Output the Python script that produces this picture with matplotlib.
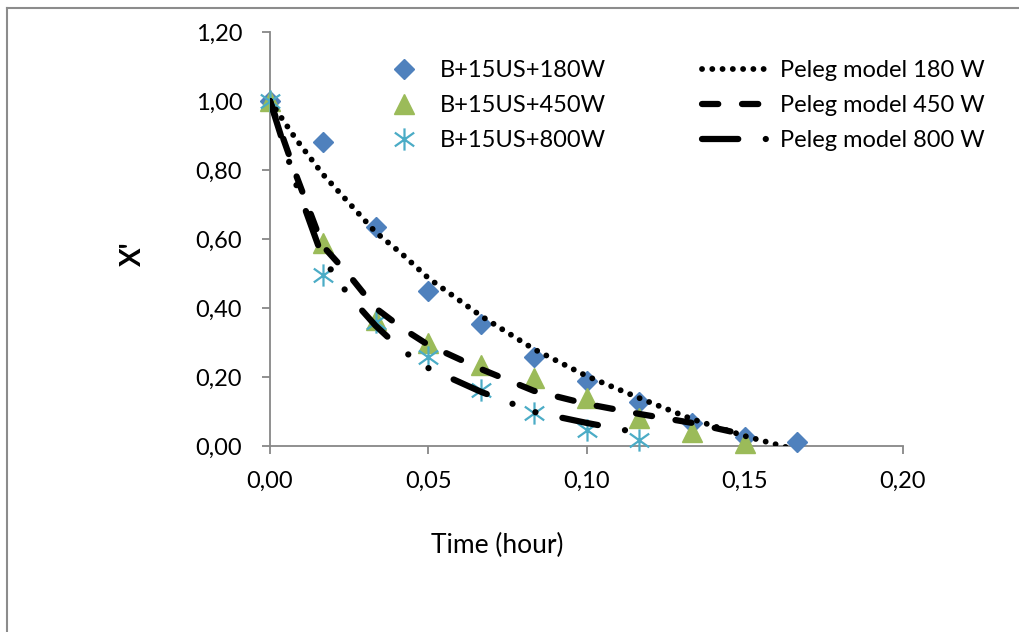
import numpy as np
import matplotlib.pyplot as plt
from matplotlib.path import Path
from matplotlib.lines import Line2D
from matplotlib.ticker import FuncFormatter, MultipleLocator

plt.rcParams['font.family'] = ['Lato', 'DejaVu Sans']

# measured points, time in minutes (converted to hours below)
min_180 = [0, 1, 2, 3, 4, 5, 6, 7, 8, 9, 10]
x_180 = [1.00, 0.881, 0.635, 0.450, 0.354, 0.259, 0.187, 0.128, 0.068, 0.025, 0.012]
min_450 = [0, 1, 2, 3, 4, 5, 6, 7, 8, 9]
x_450 = [1.00, 0.588, 0.365, 0.300, 0.235, 0.198, 0.139, 0.080, 0.040, 0.010]
min_800 = [0, 1, 2, 3, 4, 5, 6, 7]
x_800 = [1.00, 0.496, 0.360, 0.258, 0.163, 0.096, 0.046, 0.016]

# Peleg model curves
pmin_180 = [0, 0.5, 1, 1.5, 2, 2.5, 3, 3.5, 4, 5, 6, 7, 8, 9, 10]
px_180 = [1.00, 0.888, 0.788, 0.704, 0.620, 0.557, 0.487, 0.432, 0.377,
          0.281, 0.203, 0.139, 0.078, 0.029, -0.012]
pmin_450 = [0, 0.5, 1, 1.5, 2, 2.5, 3, 4, 5, 6, 7, 8, 9]
px_450 = [1.00, 0.783, 0.580, 0.495, 0.400, 0.342, 0.293, 0.223, 0.160,
          0.122, 0.093, 0.067, 0.033]
pmin_800 = [0, 0.5, 1, 1.5, 2, 2.5, 3, 4, 5, 6, 7]
px_800 = [1.00, 0.757, 0.545, 0.435, 0.349, 0.278, 0.226, 0.157, 0.099,
          0.067, 0.038]

labels_data = ['B+15US+180W', 'B+15US+450W', 'B+15US+800W']
labels_model = ['Peleg model 180 W', 'Peleg model 450 W', 'Peleg model 800 W']

def hours(m):
    return np.array(m) / 60.0

# excel style star marker (x + vertical bar)
star = Path([(0, -1), (0, 1), (-0.87, -0.62), (0.87, 0.62), (-0.87, 0.62), (0.87, -0.62)],
            [Path.MOVETO, Path.LINETO] * 3)

fig = plt.figure(figsize=(10.2, 6.32), dpi=100)
ax = fig.add_axes([270 / 1020, 1 - 446 / 632, 633 / 1020, 414 / 632])

h1, = ax.plot(hours(min_180), x_180, ls='none', marker='D', ms=10.5, color='#4F81BD',
              clip_on=False, zorder=3, label=labels_data[0])
h2, = ax.plot(hours(min_450), x_450, ls='none', marker='^', ms=15, color='#9BBB59',
              clip_on=False, zorder=3, label=labels_data[1])
h3, = ax.plot(hours(min_800), x_800, ls='none', marker=star, ms=16, mfc='none',
              mec='#4BACC6', mew=1.6, clip_on=False, zorder=3, label=labels_data[2])

l1, = ax.plot(hours(pmin_180), px_180, color='black', lw=4.2, ls=(0, (0.01, 1.75)),
              dash_capstyle='round', zorder=4, label=labels_model[0])
l2, = ax.plot(hours(pmin_450), px_450, color='black', lw=4.5, ls=(0, (2.6, 3.8)),
              dash_capstyle='round', zorder=4, label=labels_model[1])
l3, = ax.plot(hours(pmin_800), px_800, color='black', lw=4.5,
              ls=(0, (5.8, 4.4, 0.01, 3.9, 0.01, 4.4)),
              dash_capstyle='round', zorder=4, label=labels_model[2])

ax.set_xlim(0, 0.20)
ax.set_ylim(0, 1.20)
ax.xaxis.set_major_locator(MultipleLocator(0.05))
ax.yaxis.set_major_locator(MultipleLocator(0.20))
fmt = FuncFormatter(lambda v, p: f"{v:.2f}".replace('.', ','))
ax.xaxis.set_major_formatter(fmt)
ax.yaxis.set_major_formatter(fmt)

for s in ['top', 'right']:
    ax.spines[s].set_visible(False)
for s in ['left', 'bottom']:
    ax.spines[s].set_color('#878787')
    ax.spines[s].set_linewidth(1.3)
ax.tick_params(direction='out', length=6, width=1.3, color='#878787', labelsize=17)
ax.tick_params(axis='x', pad=12)
ax.tick_params(axis='y', pad=14)

ax.set_xlabel('Time (hour)', fontsize=19)
ax.xaxis.set_label_coords((497 - 270) / 633, (446 - 533) / 414)
ax.set_ylabel("X'", fontsize=20, fontweight='bold')
ax.yaxis.set_label_coords((146 - 270) / 633, (446 - 254) / 414)

leg1 = ax.legend(handles=[h1, h2, h3], loc='upper left', frameon=False,
                 bbox_to_anchor=(386 / 1020, 1 - 60 / 632), bbox_transform=fig.transFigure,
                 fontsize=17, numpoints=1, handlelength=1.5, handletextpad=0.8,
                 labelspacing=0.6, borderpad=0, borderaxespad=0)
ax.add_artist(leg1)
ax.legend(handles=[l1, l2, l3], loc='upper left', frameon=False,
          bbox_to_anchor=(702 / 1020, 1 - 60 / 632), bbox_transform=fig.transFigure,
          fontsize=17, handlelength=2.7, handletextpad=0.6,
          labelspacing=0.6, borderpad=0, borderaxespad=0)

# outer chart border (only left and top edges visible)
fig.add_artist(Line2D([7 / 1020, 1.0], [1 - 8 / 632, 1 - 8 / 632], color='#8c8c8c', lw=1.5))
fig.add_artist(Line2D([7 / 1020, 7 / 1020], [0.0, 1 - 8 / 632], color='#8c8c8c', lw=1.5))

fig.savefig('out.png', dpi=100)
